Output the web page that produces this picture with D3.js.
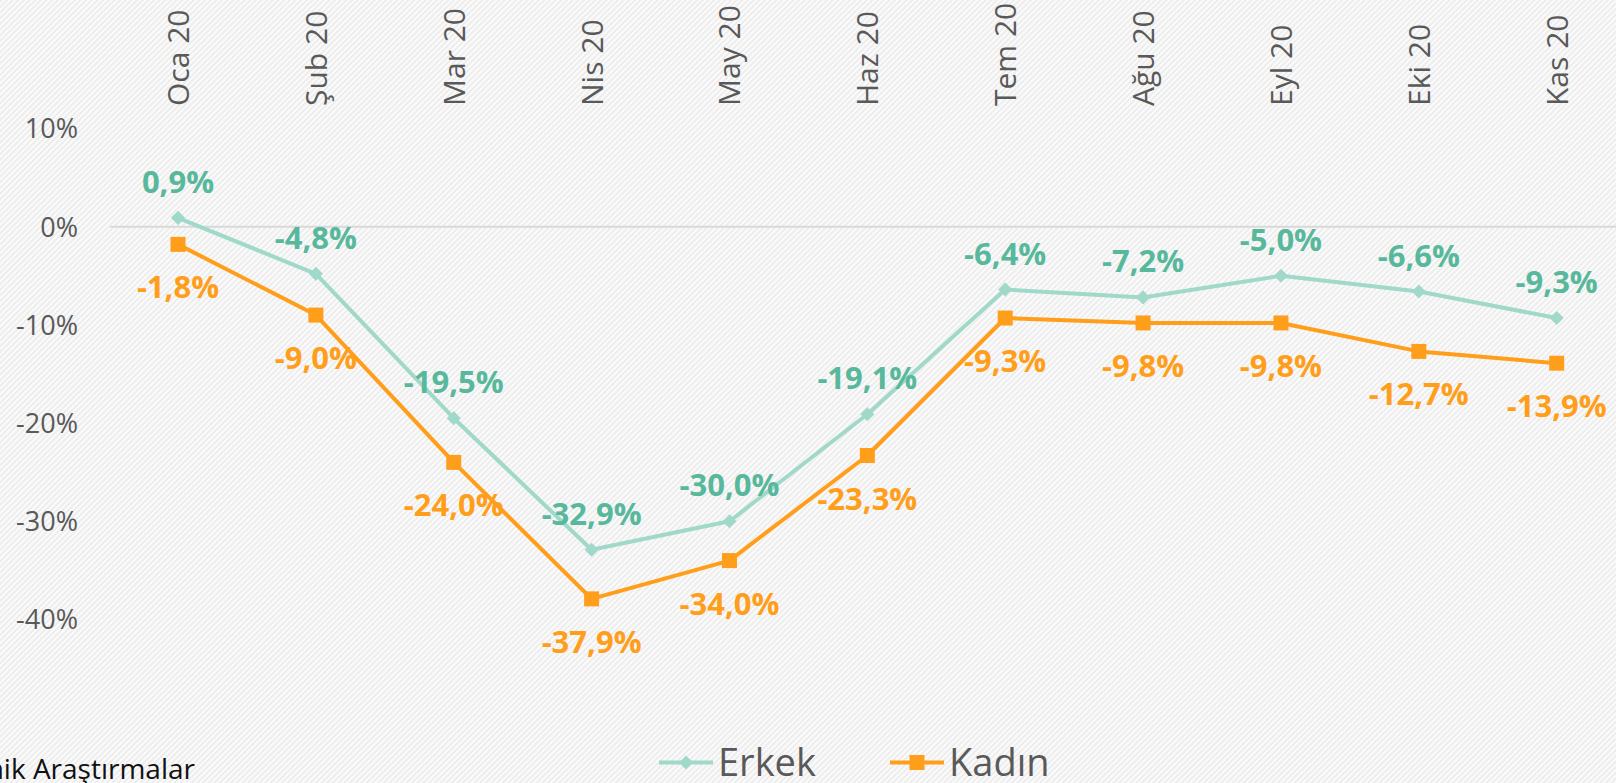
<!DOCTYPE html>
<html><head><meta charset="utf-8">
<script src="https://cdn.jsdelivr.net/npm/d3@7"></script>
<style>
html,body{margin:0;padding:0;overflow:hidden;background:#f5f5f5;}
svg{display:block;}
text{font-family:"Open Sans","Noto Sans",sans-serif;}
</style></head>
<body>
<script>
const categories = ["Oca 20","Şub 20","Mar 20","Nis 20","May 20","Haz 20","Tem 20","Ağu 20","Eyl 20","Eki 20","Kas 20"];
const erkek = [0.9,-4.8,-19.5,-32.9,-30.0,-19.1,-6.4,-7.2,-5.0,-6.6,-9.3];
const kadin = [-1.8,-9.0,-24.0,-37.9,-34.0,-23.3,-9.3,-9.8,-9.8,-12.7,-13.9];
const yTicks = [10,0,-10,-20,-30,-40];
const seriesNames = ["Erkek","Kadın"];
const sourceText = "Kaynak: TÜİK, Ekonomik Araştırmalar";

const W = 1616, H = 783;
const svg = d3.select("body").append("svg").attr("width", W).attr("height", H);
const defs = svg.append("defs");
const pat = defs.append("pattern").attr("id","stripes").attr("patternUnits","userSpaceOnUse")
  .attr("width",4).attr("height",4).attr("patternTransform","rotate(45)");
pat.append("rect").attr("width",4).attr("height",4).attr("fill","#fbfbfb");
pat.append("rect").attr("width",2).attr("height",4).attr("fill","#ededed");
svg.append("rect").attr("width",W).attr("height",H).attr("fill","url(#stripes)");

const x = d3.scalePoint().domain(categories).range([178, 1556.7]);
const y = d3.scaleLinear().domain([-40, 10]).range([619.5, 128.5]);

// zero line
svg.append("line").attr("x1",110).attr("x2",W).attr("y1",y(0)).attr("y2",y(0))
  .attr("stroke","#d9d9d9").attr("stroke-width",2);

// y axis labels
const yAxis = d3.axisLeft(y).tickValues(yTicks).tickSize(0).tickPadding(0)
  .tickFormat(d => d + "%");
const gy = svg.append("g").attr("transform","translate(78,0)").call(yAxis);
gy.select(".domain").remove();
gy.selectAll("text").attr("font-size",27).attr("fill","#595959")
  .attr("font-family","'Open Sans', sans-serif").attr("dy","0.35em");

// x axis labels (rotated at top)
const xAxis = d3.axisTop(x).tickSize(0).tickPadding(0);
const gx = svg.append("g").call(xAxis);
gx.select(".domain").remove();
gx.selectAll(".tick text").attr("font-size",30).attr("fill","#595959")
  .attr("font-family","'Open Sans', sans-serif")
  .attr("text-anchor","start").attr("transform","translate(0,106) rotate(-90)")
  .attr("x",0).attr("y",0).attr("dy","0.35em");

const teal = "#a0d9c9", tealLabel = "#58b89c", orange = "#ff9e1b";
const line = d3.line().x((d,i)=>x(categories[i])).y(d=>y(d));

svg.append("path").datum(erkek).attr("d",line).attr("fill","none")
  .attr("stroke",teal).attr("stroke-width",4).attr("stroke-linejoin","round");
svg.append("path").datum(kadin).attr("d",line).attr("fill","none")
  .attr("stroke",orange).attr("stroke-width",4).attr("stroke-linejoin","round");

const diamond = d3.symbol().type(d3.symbolSquare).size(100);
svg.selectAll(".mE").data(erkek).join("path").attr("d",diamond)
  .attr("transform",(d,i)=>`translate(${x(categories[i])},${y(d)}) rotate(45)`).attr("fill",teal);
svg.selectAll(".mK").data(kadin).join("rect")
  .attr("x",(d,i)=>x(categories[i])-7.5).attr("y",d=>y(d)-7.5)
  .attr("width",15).attr("height",15).attr("fill",orange);

const fmt = v => v.toFixed(1).replace(".", ",") + "%";
svg.selectAll(".lE").data(erkek).join("text")
  .attr("x",(d,i)=>x(categories[i])).attr("y",d=>y(d)-25)
  .attr("text-anchor","middle").attr("font-size",31).attr("font-weight","bold")
  .attr("fill",tealLabel).text(fmt);
svg.selectAll(".lK").data(kadin).join("text")
  .attr("x",(d,i)=>x(categories[i])).attr("y",d=>y(d)+54)
  .attr("text-anchor","middle").attr("font-size",31).attr("font-weight","bold")
  .attr("fill",orange).text(fmt);

// legend
const lg = svg.append("g");
const legendItems = [{name:seriesNames[0], x0:659, color:teal, shape:"d"},
                     {name:seriesNames[1], x0:890, color:orange, shape:"s"}];
const ly = 762.5;
legendItems.forEach(it => {
  lg.append("line").attr("x1",it.x0).attr("x2",it.x0+54).attr("y1",ly).attr("y2",ly)
    .attr("stroke",it.color).attr("stroke-width",4);
  if (it.shape === "d") {
    lg.append("path").attr("d",diamond).attr("transform",`translate(${it.x0+27},${ly}) rotate(45)`).attr("fill",it.color);
  } else {
    lg.append("rect").attr("x",it.x0+27-7.5).attr("y",ly-7.5).attr("width",15).attr("height",15).attr("fill",it.color);
  }
  lg.append("text").attr("x",it.x0+59).attr("y",776).attr("font-size",38)
    .attr("fill","#595959").text(it.name);
});

// source (cut off on the left)
svg.append("text").attr("x",195).attr("y",779).attr("text-anchor","end")
  .attr("font-size",28).attr("fill","#111").text(sourceText);
</script>
</body></html>
